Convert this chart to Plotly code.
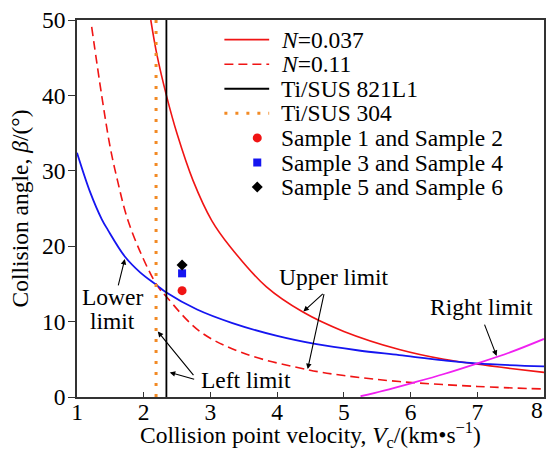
import plotly.graph_objects as go

# limit curves
vc_upper_037 = [2.106, 2.20, 2.34, 2.5, 2.74, 3.02, 3.29, 3.84, 4.38, 5.0, 5.83, 6.5, 6.98, 7.5, 8.0]
beta_upper_037 = [50, 45.3, 40, 34.9, 28.7, 23.4, 20.0, 14.6, 11.3, 8.7, 6.3, 5.0, 4.37, 3.78, 3.26]

vc_upper_011 = [1.22, 1.37, 1.5, 1.61, 1.75, 1.97, 2.2, 2.34, 2.84, 3.5, 4.47, 5.0, 5.83, 7.0, 8.0]
beta_upper_011 = [49.1, 40, 33.0, 28.6, 23.8, 18.8, 14.8, 13.3, 8.7, 5.8, 3.6, 2.85, 2.05, 1.4, 1.06]

vc_lower = [1.0, 1.2, 1.37, 1.46, 1.72, 1.95, 2.2, 2.34, 2.8, 3.33, 4.0, 4.59, 5.2, 5.83, 6.5, 6.98, 8.0]
beta_lower = [32.4, 27.1, 23.6, 22.2, 18.6, 16.5, 14.8, 13.85, 11.6, 9.8, 8.1, 7.0, 6.2, 5.55, 4.85, 4.45, 4.05]

vc_right = [5.25, 5.6, 6.02, 6.5, 6.98, 7.5, 8.0]
beta_right = [0.1, 0.85, 1.85, 3.05, 4.4, 5.95, 7.7]

# left limits (vertical lines)
vc_left_821 = 2.34
vc_left_304 = 2.185
beta_span = [0, 50]

# experiment points
sample_vc = [2.575, 2.575, 2.575]
sample_beta = [14.1, 16.4, 17.5]

x_ticks = [1, 2, 3, 4, 5, 6, 7, 8]
legend_names = ["<i>N</i>=0.037", "<i>N</i>=0.11", "Ti/SUS 821L1", "Ti/SUS 304",
                "Sample 1 and Sample 2", "Sample 3 and Sample 4", "Sample 5 and Sample 6"]

RED = "#F01414"
BLUE = "#1515F0"
ORANGE = "#F28A24"
MAGENTA = "#F020F0"
FONT = "Liberation Serif"
FS = 23.5

fig = go.Figure()
fig.add_trace(go.Scatter(x=vc_upper_037, y=beta_upper_037, mode="lines", line_shape="spline",
                         line=dict(color=RED, width=1.6)))
fig.add_trace(go.Scatter(x=vc_upper_011, y=beta_upper_011, mode="lines", line_shape="spline",
                         line=dict(color=RED, width=1.6, dash="9px,5px")))
fig.add_trace(go.Scatter(x=vc_lower, y=beta_lower, mode="lines", line_shape="spline",
                         line=dict(color=BLUE, width=1.8)))
fig.add_trace(go.Scatter(x=vc_right, y=beta_right, mode="lines", line_shape="spline",
                         line=dict(color=MAGENTA, width=1.8)))
fig.add_trace(go.Scatter(x=[vc_left_821, vc_left_821], y=beta_span, mode="lines",
                         line=dict(color="black", width=1.8)))
fig.add_trace(go.Scatter(x=[vc_left_304, vc_left_304], y=beta_span, mode="lines",
                         line=dict(color=ORANGE, width=3, dash="3px,8px")))
fig.add_trace(go.Scatter(x=sample_vc[:1], y=sample_beta[:1], mode="markers",
                         marker=dict(symbol="circle", size=9, color=RED)))
fig.add_trace(go.Scatter(x=sample_vc[1:2], y=sample_beta[1:2], mode="markers",
                         marker=dict(symbol="square", size=8, color=BLUE)))
fig.add_trace(go.Scatter(x=sample_vc[2:], y=sample_beta[2:], mode="markers",
                         marker=dict(symbol="diamond", size=8.5, color="black")))

# legend drawn by hand so the row spacing matches
row_y = [0.948 - 0.0652 * i for i in range(7)]
line_styles = [(RED, 1.6, "solid"), (RED, 1.6, "9px,5px"), ("black", 1.8, "solid"), (ORANGE, 3, "3px,8px")]
for i, (col, w, d) in enumerate(line_styles):
    fig.add_shape(type="line", xref="paper", yref="paper", x0=0.3156, x1=0.4115,
                  y0=row_y[i], y1=row_y[i], line=dict(color=col, width=w, dash=d))
mx = 0.386
fig.add_shape(type="circle", xref="paper", yref="paper", xsizemode="pixel", ysizemode="pixel",
              xanchor=mx, yanchor=row_y[4], x0=-4.5, x1=4.5, y0=-4.5, y1=4.5,
              fillcolor=RED, line_width=0)
fig.add_shape(type="rect", xref="paper", yref="paper", xsizemode="pixel", ysizemode="pixel",
              xanchor=mx, yanchor=row_y[5], x0=-4, x1=4, y0=-4, y1=4,
              fillcolor=BLUE, line_width=0)
fig.add_shape(type="path", xref="paper", yref="paper", xsizemode="pixel", ysizemode="pixel",
              xanchor=mx, yanchor=row_y[6], path="M0,-5.5 L5.5,0 L0,5.5 L-5.5,0 Z",
              fillcolor="black", line_width=0)
for i, name in enumerate(legend_names):
    fig.add_annotation(x=0.4328, y=row_y[i], xref="paper", yref="paper", text=name,
                       showarrow=False, xanchor="left", yanchor="middle",
                       font=dict(family=FONT, size=FS, color="black"))

# labels with arrows
labels = [("Lower", 1.538, 13.3), ("limit", 1.538, 10.1), ("Left limit", 3.537, 2.29),
          ("Upper limit", 4.84, 15.9), ("Right limit", 7.06, 11.96)]
for txt, lx, ly in labels:
    fig.add_annotation(x=lx, y=ly, text=txt, showarrow=False,
                       font=dict(family=FONT, size=FS, color="black"))

arrows = [((1.613, 14.6), (1.717, 18.3)),
          ((2.764, 2.69), (2.211, 8.69)),
          ((2.779, 2.3), (2.39, 3.26)),
          ((4.707, 13.85), (4.393, 11.34)),
          ((4.707, 13.85), (4.458, 3.7)),
          ((7.1, 9.8), (7.29, 5.45))]
for (tx, ty), (hx, hy) in arrows:
    fig.add_annotation(x=hx, y=hy, ax=tx, ay=ty, xref="x", yref="y", axref="x", ayref="y",
                       text="", showarrow=True, arrowhead=2, arrowsize=1, arrowwidth=1.1,
                       arrowcolor="black", standoff=0)

# last x tick label sits inside the right edge, as in the original
fig.add_annotation(x=1, y=-0.035, xref="paper", yref="paper", xanchor="right", yanchor="middle",
                   text=str(x_ticks[-1]), showarrow=False, xshift=1,
                   font=dict(family=FONT, size=FS, color="black"))
# x axis title as an annotation so it sits closer to the tick labels
fig.add_annotation(x=0.5, y=-0.102, xref="paper", yref="paper", yanchor="middle", showarrow=False,
                   text="Collision point velocity, <i>V</i><sub>c</sub>/(km•s<sup>−1</sup>)",
                   font=dict(family=FONT, size=FS, color="black"))

axis_common = dict(showline=True, linecolor="#333333", linewidth=1.5, mirror=True,
                   showgrid=False, zeroline=False, tickcolor="#333333", tickwidth=1.2,
                   ticklabeloverflow="allow",
                   tickfont=dict(family=FONT, size=FS, color="black"))
fig.update_xaxes(range=[1, 8], tickvals=x_ticks,
                 ticktext=[str(v) for v in x_ticks[:-1]] + [""],
                 ticks="inside", ticklen=5, ticklabelstandoff=-7,
                 **axis_common)
fig.update_yaxes(range=[0, 50], dtick=10, ticks="outside", ticklen=7, ticklabelstandoff=-2,
                 title=dict(text="Collision angle, <i>β</i>/(°)",
                            font=dict(family=FONT, size=FS, color="black"), standoff=7),
                 **axis_common)
fig.update_layout(width=547, height=462, showlegend=False,
                  margin=dict(l=77, r=1, t=20, b=65),
                  font=dict(family=FONT),
                  plot_bgcolor="white", paper_bgcolor="white")
# drop the default 8px body margin so the figure fills the window exactly
fig.write_html("out.html", config={"displayModeBar": False},
               post_script="document.body.style.margin='0px';")
